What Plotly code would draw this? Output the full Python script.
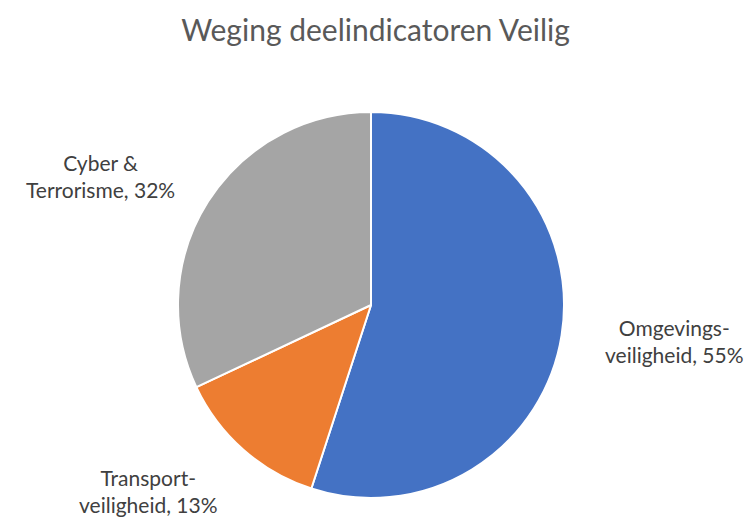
import plotly.graph_objects as go

categories = ["Omgevings-<br>veiligheid", "Transport-<br>veiligheid", "Cyber &<br>Terrorisme"]
values = [55, 13, 32]
colors = ["#4472C4", "#ED7D31", "#A5A5A5"]

W, H = 751, 526
cx, cy, r = 371, 305, 193

fig = go.Figure(go.Pie(
    labels=categories,
    values=values,
    sort=False,
    direction="clockwise",
    rotation=0,
    marker=dict(colors=colors, line=dict(color="white", width=2)),
    textinfo="none",
    hoverinfo="label+percent",
    showlegend=False,
    domain=dict(x=[(cx - r) / W, (cx + r) / W], y=[(H - cy - r) / H, (H - cy + r) / H]),
))

label_pos = [(674, 341), (148, 491), (100, 176)]
total = sum(values)
for cat, v, (lx, ly) in zip(categories, values, label_pos):
    fig.add_annotation(
        x=lx / W, y=1 - ly / H, xref="paper", yref="paper",
        xanchor="center", yanchor="middle",
        text=f"{cat}, {round(100 * v / total)}%",
        showarrow=False, align="center",
        font=dict(family="Lato, Noto Sans, sans-serif", size=21, color="#404040"),
    )

fig.update_layout(
    width=W, height=H,
    margin=dict(l=0, r=0, t=0, b=0),
    paper_bgcolor="white",
    title=dict(text="Weging deelindicatoren Veilig", x=0.5, xanchor="center",
               y=1 - 30 / H, yanchor="middle",
               font=dict(family="Lato, Noto Sans, sans-serif", size=30, color="#595959")),
)

fig.write_html("out.html", config={"displayModeBar": False},
               post_script="document.body.style.margin='0';")
